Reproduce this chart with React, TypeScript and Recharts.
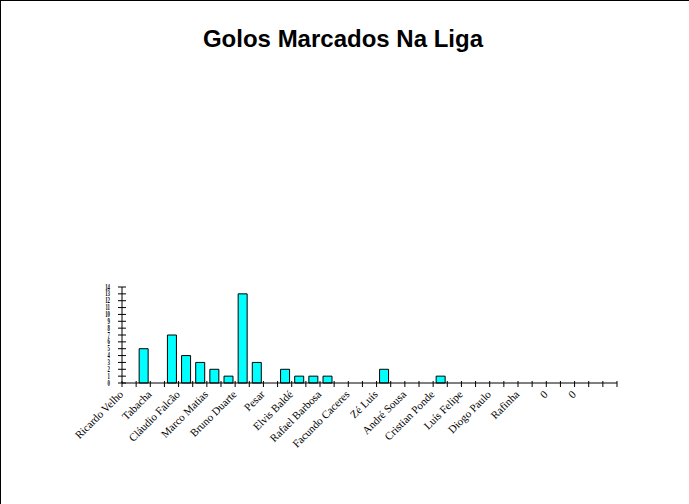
import React from "react";
import { BarChart, Bar, XAxis, YAxis } from "recharts";

const players: string[] = [
  "Ricardo Velho", "", "Tabacha", "", "Cláudio Falcão", "", "Marco Matias", "",
  "Bruno Duarte", "", "Pesar", "", "Elvis Baldé", "", "Rafael Barbosa", "",
  "Facundo Caceres", "", "Zé Luís", "", "André Sousa", "", "Cristian Ponde", "",
  "Luís Felipe", "", "Diogo Paulo", "", "Rafinha", "", "0", "", "0", "", "",
];
const goals: number[] = [
  0, 5, 0, 7, 4, 3, 2, 1, 13, 3, 0, 2, 1, 1, 1, 0, 0, 0, 2, 0, 0, 0, 1, 0,
  0, 0, 0, 0, 0, 0, 0, 0, 0, 0, 0,
];
const yTicks: number[] = [0, 1, 2, 3, 4, 5, 6, 7, 8, 9, 10, 11, 12, 13, 14];
const title = "Golos Marcados Na Liga";

const data = players.map((name, i) => ({ key: `c${i}`, name, value: goals[i] }));

const W = 689;
const H = 504;
const LEFT = 122;
const RIGHT = 72;
const HALF_BAND = (W - LEFT - RIGHT) / players.length / 2;

const XTick = (props: any) => {
  const { x, y, index } = props;
  const label = players[index];
  const bx = x - HALF_BAND;
  const isLast = index === players.length - 1;
  return (
    <g>
      <line x1={bx} x2={bx} y1={y - 2} y2={y + 4} stroke="#000" strokeWidth={1} />
      {isLast && (
        <line x1={x + HALF_BAND} x2={x + HALF_BAND} y1={y - 2} y2={y + 4} stroke="#000" strokeWidth={1} />
      )}
      {label ? (
        <text
          x={bx + 2}
          y={y + 12}
          transform={`rotate(-45 ${bx + 2} ${y + 12})`}
          textAnchor="end"
          fontFamily="'Liberation Serif', serif"
          fontSize={11}
          fill="#000"
        >
          {label}
        </text>
      ) : null}
    </g>
  );
};

const YTick = (props: any) => {
  const { x, y, payload } = props;
  return (
    <g>
      <line x1={x - 4} x2={x + 4} y1={y} y2={y} stroke="#000" strokeWidth={1} />
      <text
        transform={`translate(${x - 12} ${y + 2.5}) scale(0.6 0.9)`}
        textAnchor="end"
        fontFamily="'Liberation Serif', serif"
        fontWeight="bold"
        fontSize={8}
        fill="#000"
      >
        {payload.value}
      </text>
    </g>
  );
};

export default function App() {
  return (
    <div style={{ position: "absolute", left: 0, top: 0, width: W, height: H, background: "#fff" }}>
      <BarChart
        width={W}
        height={H}
        data={data}
        margin={{ top: 287, right: RIGHT, bottom: 0, left: 0 }}
        barSize={9}
      >
        <XAxis
          dataKey="key"
          height={121}
          interval={0}
          tickLine={false}
          tickSize={0}
          tickMargin={0}
          axisLine={{ stroke: "#000", strokeWidth: 1 }}
          tick={<XTick />}
        />
        <YAxis
          width={LEFT}
          domain={[0, 14]}
          ticks={yTicks}
          interval={0}
          tickLine={false}
          tickSize={0}
          tickMargin={0}
          axisLine={{ stroke: "#000", strokeWidth: 1 }}
          tick={<YTick />}
        />
        <Bar dataKey="value" fill="#00FFFF" stroke="#000" strokeWidth={1} isAnimationActive={false} />
      </BarChart>
      <svg
        width={W}
        height={H}
        style={{ position: "absolute", left: 0, top: 0, pointerEvents: "none" }}
      >
        <line x1={0} x2={W} y1={0.5} y2={0.5} stroke="#000" strokeWidth={1} />
        <line x1={0.5} x2={0.5} y1={0} y2={H} stroke="#000" strokeWidth={1} />
        <text
          x={343}
          y={47}
          textAnchor="middle"
          fontFamily="'Liberation Sans', Arial, sans-serif"
          fontWeight="bold"
          fontSize={24}
          fill="#000"
        >
          {title}
        </text>
      </svg>
    </div>
  );
}
